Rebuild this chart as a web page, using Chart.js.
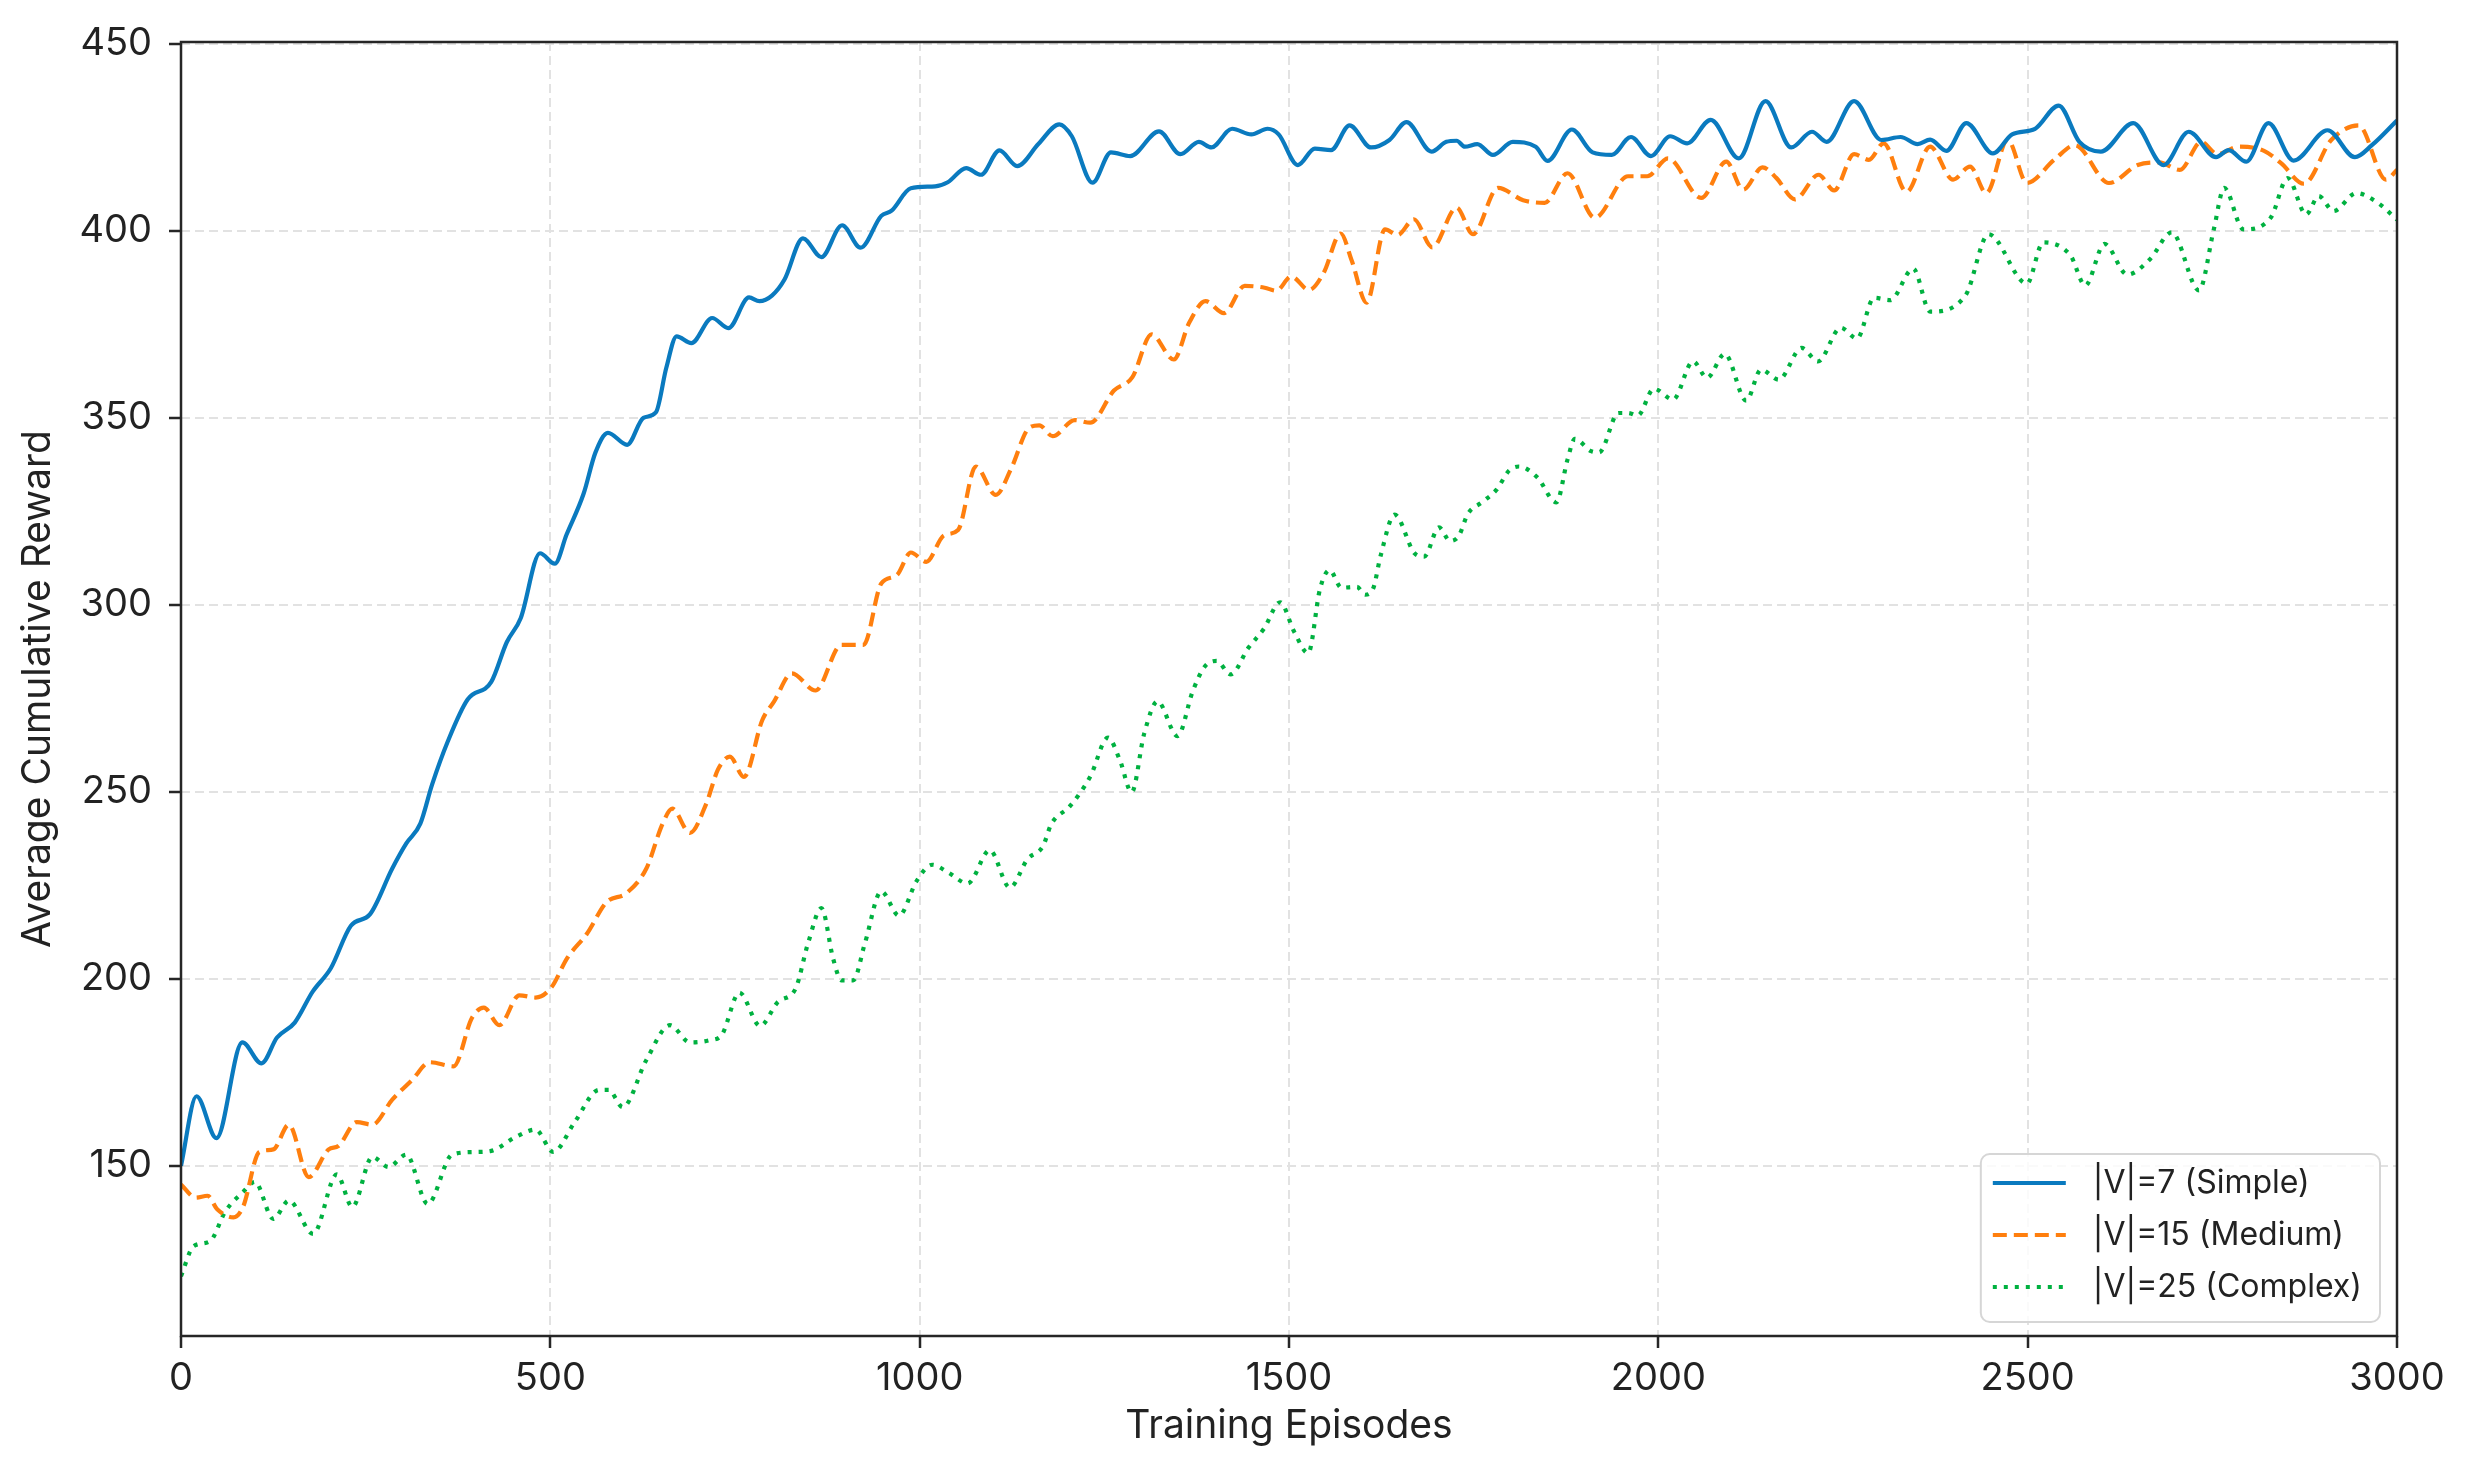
<!DOCTYPE html>
<html>
<head>
<meta charset="utf-8">
<script src="https://cdn.jsdelivr.net/npm/chart.js@4.4.1/dist/chart.umd.min.js"></script>
<style>
  html, body { margin: 0; padding: 0; background: #fff; }
  #wrap { width: 2467px; height: 1472px; position: relative; }
</style>
</head>
<body>
<div id="wrap"><canvas id="rewardChart"></canvas></div>
<script>
// Curvas de recompensa (episodio, recompensa media)
var seriesLabels = ['|V|=7 (Simple)', '|V|=15 (Medium)', '|V|=25 (Complex)'];

var simpleEpisodes = [0, 21, 48, 83, 109, 130, 154, 178, 203, 230, 256, 286, 305, 324, 340, 361, 388, 420, 441, 460,
    486, 506, 522, 545, 561, 578, 604, 626, 643, 657, 671, 691, 719, 741, 769, 783, 800, 817, 842, 867,
    895, 920, 948, 962, 988, 1021, 1038, 1063, 1083, 1108, 1132, 1161, 1189, 1206, 1234, 1259, 1285, 1324, 1353, 1378,
    1395, 1423, 1449, 1471, 1486, 1512, 1535, 1557, 1582, 1611, 1636, 1659, 1693, 1713, 1727, 1738, 1755, 1776, 1803, 1834,
    1850, 1883, 1911, 1937, 1963, 1990, 2016, 2039, 2071, 2109, 2145, 2180, 2208, 2228, 2265, 2302, 2328, 2351, 2368, 2390,
    2417, 2453, 2479, 2510, 2542, 2570, 2599, 2643, 2684, 2718, 2755, 2772, 2796, 2826, 2860, 2906, 2943, 2966, 3000];
var simpleReward = [150, 168.6, 157.4, 183, 177.4, 184.3, 188.3, 196.5, 202.9, 214.2, 217.3, 229.5, 236.2, 241.5, 252, 263.4, 274.7, 279.4, 290, 296.5,
    313.8, 311, 318.8, 329.7, 340.7, 346, 342.8, 350, 351.5, 363.4, 371.8, 370, 376.7, 374, 382.2, 381.2, 382.7, 387, 398, 393,
    401.5, 395.5, 404, 405.4, 411.4, 411.9, 413, 416.8, 415, 421.5, 417.3, 423.3, 428.5, 425.3, 412.9, 421, 420, 426.6, 420.5, 423.8,
    422.3, 427.3, 425.8, 427.3, 425.8, 417.6, 422, 421.6, 428.2, 422.3, 424.3, 429.1, 421.2, 423.8, 424.1, 422.5, 423.2, 420.3, 423.8, 422.5,
    418.7, 427.1, 421, 420.3, 425.1, 420, 425.3, 423.4, 429.7, 419.4, 434.7, 422.3, 426.5, 423.8, 434.7, 424.3, 425.1, 423.2, 424.4, 421.4,
    428.8, 420.7, 425.8, 427.3, 433.5, 423.8, 421.2, 428.8, 417.6, 426.5, 419.7, 421.6, 418.5, 428.8, 418.8, 426.9, 419.7, 422.9, 429.5];

var mediumEpisodes = [0, 20, 36, 49, 71, 84, 106, 125, 146, 173, 200, 213, 238, 259, 286, 313, 337, 369, 394, 410,
    431, 458, 480, 501, 523, 550, 576, 603, 630, 652, 665, 689, 711, 727, 743, 762, 787, 803, 827, 859,
    894, 924, 948, 969, 988, 1009, 1033, 1052, 1076, 1103, 1124, 1148, 1162, 1180, 1210, 1231, 1263, 1288, 1314, 1344,
    1365, 1387, 1412, 1440, 1467, 1483, 1503, 1527, 1547, 1570, 1585, 1605, 1630, 1647, 1669, 1694, 1727, 1749, 1783, 1817,
    1846, 1877, 1914, 1959, 1985, 2013, 2058, 2092, 2115, 2141, 2160, 2185, 2217, 2238, 2265, 2285, 2305, 2336, 2368, 2399,
    2422, 2444, 2473, 2499, 2536, 2564, 2610, 2649, 2678, 2706, 2735, 2757, 2786, 2820, 2843, 2874, 2911, 2948, 2985, 3000];
var mediumReward = [145, 141.5, 142, 138.4, 136.2, 139, 153.7, 154.4, 161, 147, 154.4, 155.3, 161.7, 161, 167.7, 173, 177.7, 176.6, 189.6, 192.3,
    187.6, 195.6, 195, 197.6, 205.6, 212.2, 220.5, 222.9, 229.5, 241.5, 245.5, 239, 246.8, 256, 259.4, 254, 269.2, 274.2, 281.7, 277.1,
    289.3, 289.3, 305.7, 307.9, 314, 311.5, 318.6, 320, 337, 329.4, 336.5, 347.3, 348, 345.1, 349.4, 348.7, 357.3, 360.9, 372.3, 365.6,
    375.5, 381.2, 378, 385.3, 384.8, 384, 387.8, 384.2, 388.8, 399.3, 392, 380.8, 400.4, 398.9, 403.1, 395.6, 406.2, 399.1, 411.5, 408.2,
    407.5, 415.4, 403.5, 414.6, 414.6, 419.4, 408.8, 418.5, 411, 417, 414.1, 408.4, 415, 410.8, 420.5, 419, 423.4, 410.4, 422.5, 413.7,
    417.2, 410.1, 424.3, 412.8, 419, 422.9, 412.8, 417.6, 418.3, 416.3, 423.8, 420.5, 422.5, 421.4, 418.1, 412.6, 424.3, 428.2, 413.7, 416.3];

var complexEpisodes = [0, 17, 39, 60, 84, 100, 125, 146, 179, 211, 232, 259, 281, 305, 334, 367, 399, 420, 453, 480,
    504, 533, 566, 579, 598, 630, 662, 689, 716, 732, 756, 784, 808, 832, 849, 867, 883, 894, 910, 926,
    948, 972, 996, 1017, 1039, 1065, 1095, 1122, 1146, 1167, 1178, 1204, 1231, 1255, 1271, 1287, 1304, 1322, 1349, 1370,
    1386, 1402, 1421, 1445, 1466, 1488, 1507, 1526, 1542, 1555, 1571, 1592, 1603, 1614, 1624, 1643, 1670, 1683, 1703, 1718,
    1730, 1742, 1761, 1781, 1798, 1811, 1836, 1862, 1877, 1887, 1909, 1920, 1946, 1959, 1972, 1994, 2020, 2047, 2066, 2090,
    2119, 2139, 2163, 2194, 2216, 2247, 2269, 2292, 2314, 2345, 2368, 2416, 2447, 2499, 2521, 2558, 2578, 2604, 2635, 2666,
    2695, 2732, 2752, 2766, 2792, 2829, 2852, 2877, 2894, 2914, 2945, 2974, 3000];
var complexReward = [120.5, 128.5, 129.8, 137.8, 143, 145.7, 135.8, 140.7, 131.8, 147.7, 139, 152.4, 149.7, 153, 139.8, 153, 153.7, 154, 157.7, 159.7,
    153.7, 161.7, 170.3, 170.3, 165.7, 178.3, 187.6, 183, 183.6, 185, 196.3, 187.4, 193.8, 197.4, 209.6, 218.9, 205.3, 199.6, 199.6, 209.6,
    223.4, 216.9, 226.2, 230.5, 228.4, 225.5, 234.4, 224.4, 232, 235.5, 241.3, 246.3, 254.1, 264.5, 258.5, 249.9, 265.6, 274.2, 264.9, 277.1,
    283.5, 285, 281.4, 288.5, 293.6, 300.7, 292.8, 287.1, 304.3, 309.3, 304.6, 304.8, 302.7, 304.4, 313.1, 324.1, 313.8, 312.9, 320.7, 317.1,
    318.5, 324.3, 327.4, 330.8, 335.9, 337, 334.1, 327.4, 338.8, 344.4, 341.1, 340.8, 351.3, 351.3, 350.6, 357.8, 354.9, 365.1, 360.7, 367.1,
    354.6, 362.9, 360.2, 368.7, 365.1, 374.1, 371.2, 382.1, 381.5, 389.9, 378.4, 382.8, 399.1, 385.9, 396.9, 393.4, 385.4, 396.5, 388.3, 392.5,
    399.6, 384.1, 400.4, 411.5, 400.4, 403.5, 414.1, 404.4, 409.3, 405.3, 410.1, 407.5, 403];

var xTickValues = [0, 500, 1000, 1500, 2000, 2500, 3000];
var yTickValues = [150, 200, 250, 300, 350, 400, 450];

var fontFamily = 'Inter, "Noto Sans", sans-serif';
var textColor = '#222222';

function toPoints(xs, ys) {
    var pts = [];
    for (var i = 0; i < xs.length; i++) {
        pts.push({ x: xs[i], y: ys[i] });
    }
    return pts;
}

// Marco completo del área de datos (los cuatro lados)
var framePlugin = {
    id: 'frame',
    afterDatasetsDraw: function(chart) {
        var a = chart.chartArea;
        var ctx = chart.ctx;
        ctx.save();
        ctx.strokeStyle = '#262626';
        ctx.lineWidth = 2.5;
        ctx.strokeRect(a.left, a.top, a.right - a.left, a.bottom - a.top);
        ctx.restore();
    }
};

// Leyenda dentro del gráfico, abajo a la derecha
var legendPlugin = {
    id: 'insideLegend',
    afterDraw: function(chart) {
        var a = chart.chartArea;
        var ctx = chart.ctx;
        ctx.save();
        ctx.font = '32px ' + fontFamily;
        var maxW = 0;
        chart.data.datasets.forEach(function(ds) {
            maxW = Math.max(maxW, ctx.measureText(ds.label).width);
        });
        var boxW = 112 + maxW + 18;
        var boxH = 168;
        var right = a.right - 17;
        var bottom = a.bottom - 14;
        var left = right - boxW;
        var top = bottom - boxH;

        ctx.beginPath();
        ctx.roundRect(left, top, boxW, boxH, 9);
        ctx.fillStyle = 'rgba(255,255,255,0.82)';
        ctx.fill();
        ctx.lineWidth = 2;
        ctx.strokeStyle = '#d6d6d6';
        ctx.stroke();

        chart.data.datasets.forEach(function(ds, i) {
            var y = top + 29 + i * 52;
            ctx.beginPath();
            ctx.setLineDash(ds.borderDash || []);
            ctx.lineCap = 'butt';
            ctx.strokeStyle = ds.borderColor;
            ctx.lineWidth = ds.borderWidth;
            ctx.moveTo(left + 12, y);
            ctx.lineTo(left + 85, y);
            ctx.stroke();
            ctx.setLineDash([]);
            ctx.fillStyle = textColor;
            ctx.textBaseline = 'middle';
            ctx.textAlign = 'left';
            ctx.fillText(ds.label, left + 112, y);
        });
        ctx.restore();
    }
};

var gridOpts = {
    color: '#e2e2e2',
    lineWidth: 2,
    tickColor: '#262626',
    tickWidth: 2.5,
    tickLength: 12
};

function plainNumber(value) {
    return String(value);
}

var config = {
    type: 'line',
    data: {
        datasets: [{
            label: seriesLabels[0],
            data: toPoints(simpleEpisodes, simpleReward),
            borderColor: '#0a7abf',
            borderWidth: 4.2,
            pointRadius: 0,
            cubicInterpolationMode: 'monotone'
        }, {
            label: seriesLabels[1],
            data: toPoints(mediumEpisodes, mediumReward),
            borderColor: '#ff7f0e',
            borderWidth: 4.2,
            borderDash: [14, 7],
            pointRadius: 0,
            cubicInterpolationMode: 'monotone'
        }, {
            label: seriesLabels[2],
            data: toPoints(complexEpisodes, complexReward),
            borderColor: '#00b140',
            borderWidth: 4.2,
            borderDash: [4, 7],
            pointRadius: 0,
            cubicInterpolationMode: 'monotone'
        }]
    },
    options: {
        responsive: true,
        maintainAspectRatio: false,
        devicePixelRatio: 1,
        animation: false,
        layout: { padding: { top: 42, right: 70, bottom: 0, left: 0 } },
        plugins: {
            legend: { display: false },
            tooltip: { enabled: false }
        },
        scales: {
            x: {
                type: 'linear',
                min: 0,
                max: 3000,
                afterBuildTicks: function(scale) {
                    scale.ticks = xTickValues.map(function(v) { return { value: v }; });
                },
                afterFit: function(scale) { scale.height = 136; },
                grid: gridOpts,
                border: { display: false, dash: [9, 5] },
                ticks: {
                    color: textColor,
                    padding: 8,
                    maxRotation: 0,
                    callback: plainNumber,
                    font: { family: fontFamily, size: 38 }
                },
                title: {
                    display: true,
                    text: 'Training Episodes',
                    color: textColor,
                    padding: { top: 0, bottom: 22 },
                    font: { family: fontFamily, size: 39 }
                }
            },
            y: {
                min: 104.5,
                max: 450.5,
                afterBuildTicks: function(scale) {
                    scale.ticks = yTickValues.map(function(v) { return { value: v }; });
                },
                afterFit: function(scale) { scale.width = 181; },
                grid: gridOpts,
                border: { display: false, dash: [9, 5] },
                ticks: {
                    color: textColor,
                    padding: 17,
                    callback: plainNumber,
                    font: { family: fontFamily, size: 38 }
                },
                title: {
                    display: true,
                    text: 'Average Cumulative Reward',
                    color: textColor,
                    padding: { top: 15, bottom: 0 },
                    font: { family: fontFamily, size: 39 }
                }
            }
        }
    },
    plugins: [framePlugin, legendPlugin]
};

new Chart(document.getElementById('rewardChart'), config);
</script>
</body>
</html>
